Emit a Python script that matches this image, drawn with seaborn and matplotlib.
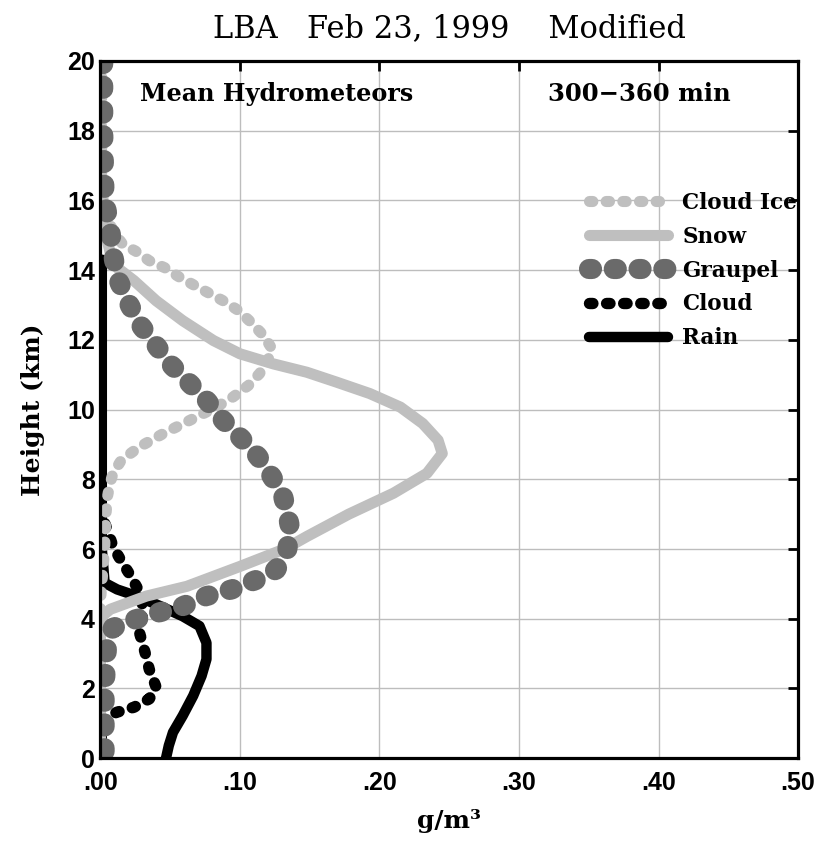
import numpy as np
import pandas as pd
import matplotlib
matplotlib.use("Agg")
import matplotlib.pyplot as plt
import seaborn as sns

# mean hydrometeor profiles, x in g/m3, height in km
ice_h = [20, 17, 16, 15.5, 15.12, 14.74, 14.55, 14.27, 14.07, 13.79, 13.55, 13.12, 12.84, 12.5,
         12.12, 11.74, 11.41, 11.03, 10.69, 10.36, 10.07, 9.69, 9.31, 8.93, 8.55, 8.17, 7.89,
         7.5, 7.0, 6.0, 5.0, 4.5, 0]
ice_q = [0.001, 0.001, 0.002, 0.005, 0.009, 0.016, 0.025, 0.035, 0.046, 0.057, 0.068, 0.088, 0.099,
         0.108, 0.117, 0.123, 0.120, 0.114, 0.106, 0.095, 0.083, 0.064, 0.045, 0.028, 0.015, 0.009,
         0.007, 0.005, 0.004, 0.003, 0.001, 0.0, 0.0]

snow_h = [20, 16, 15, 14.5, 14.07, 13.7, 13.12, 12.55, 11.98, 11.6, 11.31, 11.07, 10.79, 10.46,
          10.07, 9.6, 9.12, 8.74, 8.17, 7.6, 7.0, 6.36, 6.0, 5.5, 4.93, 4.65, 4.27, 4.1, 3.9, 0]
snow_q = [0.0, 0.001, 0.004, 0.007, 0.012, 0.024, 0.040, 0.059, 0.081, 0.100, 0.124, 0.148, 0.169,
          0.193, 0.215, 0.231, 0.242, 0.245, 0.234, 0.210, 0.178, 0.148, 0.132, 0.100, 0.062, 0.033,
          0.007, 0.002, 0.0, 0.0]

graupel_h = [20, 18, 16, 15.8, 15.2, 14.46, 13.79, 13.07, 12.46, 11.89, 11.31, 10.79, 10.27, 9.69,
             9.17, 8.65, 8.07, 7.5, 7.0, 6.6, 6.0, 5.41, 5.12, 4.84, 4.65, 4.36, 4.17, 3.98, 3.74,
             3.4, 2.0, 0]
graupel_q = [0.002, 0.002, 0.003, 0.004, 0.007, 0.009, 0.012, 0.020, 0.028, 0.039, 0.050, 0.063,
             0.076, 0.088, 0.101, 0.113, 0.123, 0.131, 0.134, 0.136, 0.134, 0.126, 0.112, 0.094,
             0.076, 0.059, 0.041, 0.025, 0.009, 0.005, 0.003, 0.003]

cloud_h = [7.2, 6.84, 6.55, 6.07, 5.65, 5.27, 4.84, 4.27, 3.6, 3.03, 2.55, 2.03, 1.7, 1.46, 1.32,
           1.2, 1.0, 0]
cloud_q = [0.0, 0.002, 0.005, 0.009, 0.015, 0.021, 0.027, 0.031, 0.028, 0.032, 0.035, 0.040, 0.035,
           0.024, 0.012, 0.005, 0.001, 0.0]

rain_h = [14.3, 10, 6, 5.03, 4.84, 4.65, 4.36, 4.07, 3.79, 3.31, 2.84, 2.36, 1.79, 1.22, 0.74,
          0.36, 0.0]
rain_q = [0.001, 0.001, 0.001, 0.003, 0.012, 0.026, 0.043, 0.059, 0.071, 0.076, 0.076, 0.0725,
          0.0665, 0.059, 0.052, 0.049, 0.047]

xticks = [0, 0.1, 0.2, 0.3, 0.4, 0.5]
xlabels = ['.00', '.10', '.20', '.30', '.40', '.50']
yticks = list(range(0, 21, 2))

sns.set_style("white")
plt.rcParams['font.family'] = ['DejaVu Serif']
plt.rcParams['text.color'] = 'black'
plt.rcParams['axes.labelcolor'] = 'black'
plt.rcParams['xtick.color'] = 'black'
plt.rcParams['ytick.color'] = 'black'

fig = plt.figure(figsize=(8.3, 8.41), dpi=100)
ax = fig.add_axes([0.121, 0.0985, 0.8405, 0.829])

light = '#bfbfbf'
dark = '#6a6a6a'
dots = (0, (0.3, 1.2))

# draw order: rain, cloud, ice, snow, graupel on top
sns.lineplot(x=rain_q, y=rain_h, sort=False, estimator=None, ax=ax, color='black', lw=7.5,
             solid_capstyle='round', label='Rain')
sns.lineplot(x=cloud_q, y=cloud_h, sort=False, estimator=None, ax=ax, color='black', lw=8.2,
             linestyle=dots, dash_capstyle='round', label='Cloud')
sns.lineplot(x=ice_q, y=ice_h, sort=False, estimator=None, ax=ax, color=light, lw=8,
             linestyle=dots, dash_capstyle='round', label='Cloud Ice')
sns.lineplot(x=snow_q, y=snow_h, sort=False, estimator=None, ax=ax, color=light, lw=8,
             solid_capstyle='round', label='Snow')
sns.lineplot(x=graupel_q, y=graupel_h, sort=False, estimator=None, ax=ax, color=dark, lw=14.5,
             linestyle=(0, (0.15, 1.08)), dash_capstyle='round', label='Graupel')

ax.set_xlim(0, 0.5)
ax.set_ylim(0, 20)
ax.set_xticks(xticks)
ax.set_xticklabels(xlabels)
ax.set_yticks(yticks)
ax.grid(True, color='#bdbdbd', lw=1)
ax.set_axisbelow(True)
for s in ax.spines.values():
    s.set_linewidth(2.3)
    s.set_color('black')
ax.tick_params(direction='in', length=7, width=2, top=True, right=True)
ax.tick_params(axis='x', pad=9)
ax.tick_params(axis='y', pad=4)
for lab in ax.get_xticklabels() + ax.get_yticklabels():
    lab.set_fontfamily('Liberation Sans')
    lab.set_fontweight('bold')
    lab.set_fontsize(18)

ax.set_xlabel('g/m³', fontsize=18, fontweight='bold', labelpad=10)
ax.set_ylabel('Height (km)', fontsize=18, fontweight='bold', labelpad=16)
ax.set_title('LBA   Feb 23, 1999    Modified', fontsize=22, pad=17)

ax.text(0.057, 0.952, 'Mean Hydrometeors', transform=ax.transAxes, fontsize=17.2,
        fontweight='bold', va='center', ha='left')
ax.text(0.642, 0.952, '300\u2212360 min', transform=ax.transAxes, fontsize=17.5,
        fontweight='bold', va='center', ha='left')

handles, labels = ax.get_legend_handles_labels()
order = ['Cloud Ice', 'Snow', 'Graupel', 'Cloud', 'Rain']
hmap = dict(zip(labels, handles))
leg = ax.legend([hmap[k] for k in order], order, loc='upper left',
                bbox_to_anchor=(0.672, 0.84), frameon=False, handlelength=3.7,
                labelspacing=0.55, handletextpad=0.65, prop={'size': 15.5, 'weight': 'bold'})

fig.savefig('out.png', dpi=100)
